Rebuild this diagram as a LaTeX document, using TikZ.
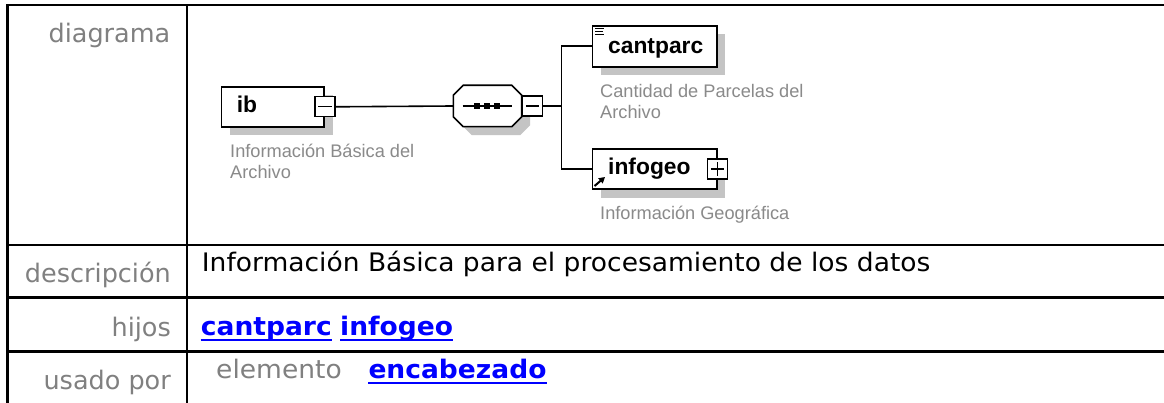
\documentclass[tikz,border=0pt]{standalone}
\usepackage{fontspec}
\usetikzlibrary{shadows,calc,arrows.meta}
\newfontfamily\tabfont{DejaVu Sans}
\newfontfamily\descfont[FakeStretch=1.04]{DejaVu Sans}
\newfontfamily\dgfont{Liberation Sans}
\definecolor{lblgray}{HTML}{808080}
\definecolor{dgray}{HTML}{8A8A8A}
\definecolor{shadowgray}{HTML}{C4C4C4}
\definecolor{linkblue}{HTML}{0000FF}
\begin{document}
\begin{tikzpicture}[x=1pt,y=-1pt,
 tabline/.style={line width=2.4pt},
 lbl/.style={anchor=base east, inner sep=0, font=\tabfont\fontsize{25.5}{30}\selectfont, text=lblgray},
 txt/.style={anchor=base west, inner sep=0, font=\descfont\fontsize{25.5}{30}\selectfont},
 lnk/.style={anchor=base west, inner sep=0, font=\descfont\bfseries\fontsize{25.5}{30}\selectfont, text=linkblue},
 elembox/.style={draw, line width=1.6pt, fill=white, anchor=north west, inner sep=0,
   drop shadow={shadow xshift=8.5pt, shadow yshift=-8.5pt, fill=shadowgray, opacity=1}},
 ctrlbox/.style={draw, line width=1.4pt, fill=white, minimum size=20pt, inner sep=0},
 ename/.style={anchor=base west, inner sep=0, font=\dgfont\bfseries\fontsize{22.8}{27}\selectfont},
 edesc/.style={anchor=base west, inner sep=0, align=left, font=\dgfont\fontsize{18.2}{21}\selectfont, text=dgray},
 conn/.style={line width=1.6pt}
]
\useasboundingbox (0,0) rectangle (1164,403);
\fill[white] (0,0) rectangle (1164,403);

% table frame
\draw[tabline, line join=miter] (1164,5.3) -- (7.3,5.3) -- (7.3,403);
\draw[tabline] (186.8,5.3) -- (186.8,403);
\draw[tabline] (7.3,245) -- (1164,245);
\draw[tabline] (7.3,297.5) -- (1164,297.5);
\draw[tabline] (7.3,351.5) -- (1164,351.5);

% row labels
\node[lbl] (Ldiag) at (170.5,42.7) {diagrama};
\node[lbl] (Ldesc) at (171,283) {descripción};
\node[lbl] (Lhij) at (171,336) {hijos};
\node[lbl] (Luso) at (171,389.7) {usado por};

% right column
\node[txt] (desc) at (201.7,271.7) {Información Básica para el procesamiento de los datos};
\node[lnk] (h1) at (200.7,335.7) {cantparc};
\node[lnk] (h2) at (340,335.7) {infogeo};
\node[txt, text=lblgray] (elem) at (216,378) {elemento};
\node[lnk] (enc) at (368.3,378) {encabezado};
\foreach \n in {h1,h2,enc}
  \draw[linkblue, line width=2pt] ([yshift=-4.5pt]\n.base west) -- ([yshift=-4.5pt]\n.base east);

% ---- diagram ----
% ib element
\node[elembox, minimum width=102.6pt, minimum height=40pt] (ib) at (220.7,86) {};
\node[ename] (ibt) at (236.7,112.7) {ib};
\node[ctrlbox] (ibm) at (ib.east) {};
\draw[line width=1.2pt] ([xshift=4pt]ibm.west) -- ([xshift=-4pt]ibm.east);
\node[edesc] (ibd) at (230,178.3) {Información Básica del\\Archivo};

% sequence compositor
\node[inner sep=0, minimum width=68.4pt, minimum height=41.4pt] (seq) at (487.5,106) {};
\path[fill=shadowgray, shift={(8.5,8.5)}] (463.3,85.3) -- (511.7,85.3) -- (521.7,95.3) -- (521.7,116.7) -- (511.7,126.7) -- (463.3,126.7) -- (453.3,116.7) -- (453.3,95.3) -- cycle;
\draw[line width=1.6pt, fill=white] (463.3,85.3) -- (511.7,85.3) -- (521.7,95.3) -- (521.7,116.7) -- (511.7,126.7) -- (463.3,126.7) -- (453.3,116.7) -- (453.3,95.3) -- cycle;
\draw[line width=1.6pt] (462.7,106) -- (512.3,106);
\fill (474,103) rectangle (480,109);
\fill (484,103) rectangle (490,109);
\fill (494,103) rectangle (500,109);
\node[ctrlbox, anchor=west] (seqm) at (seq.east) {};
\draw[line width=1.2pt] ([xshift=4pt]seqm.west) -- ([xshift=-4pt]seqm.east);

\draw[conn] (ibm.east) -- (seq.west);
\coordinate (bus) at (561.3,106);
\draw[conn] (seqm.east) -- (bus);

% cantparc
\node[elembox, minimum width=124.3pt, minimum height=41pt] (cp) at (591.7,25) {};
\node[ename] (cpt) at (608,53.3) {cantparc};
\draw[line width=1pt] (595,28.5) -- (604,28.5) (595,31.5) -- (603,31.5) (595,34.5) -- (604,34.5);
\node[edesc] (cpd) at (600,119) {Cantidad de Parcelas del\\Archivo};

% infogeo
\node[elembox, minimum width=124.3pt, minimum height=40pt] (ig) at (591.7,148.3) {};
\node[ename] (igt) at (608,175) {infogeo};
\node[ctrlbox] (igp) at (ig.east) {};
\draw[line width=1.2pt] ([xshift=4pt]igp.west) -- ([xshift=-4pt]igp.east)
  ([yshift=4pt]igp.south) -- ([yshift=-4pt]igp.north);
\draw[line width=2pt, -{Triangle[length=6pt,width=6.5pt]}] (594.5,186) -- (605,177);
\node[edesc] (igd) at (600,220) {Información Geográfica};

% bus connectors
\draw[conn, line join=miter] (bus) |- (cp.west);
\draw[conn, line join=miter] (bus) |- (ig.west);
\end{tikzpicture}
\end{document}
